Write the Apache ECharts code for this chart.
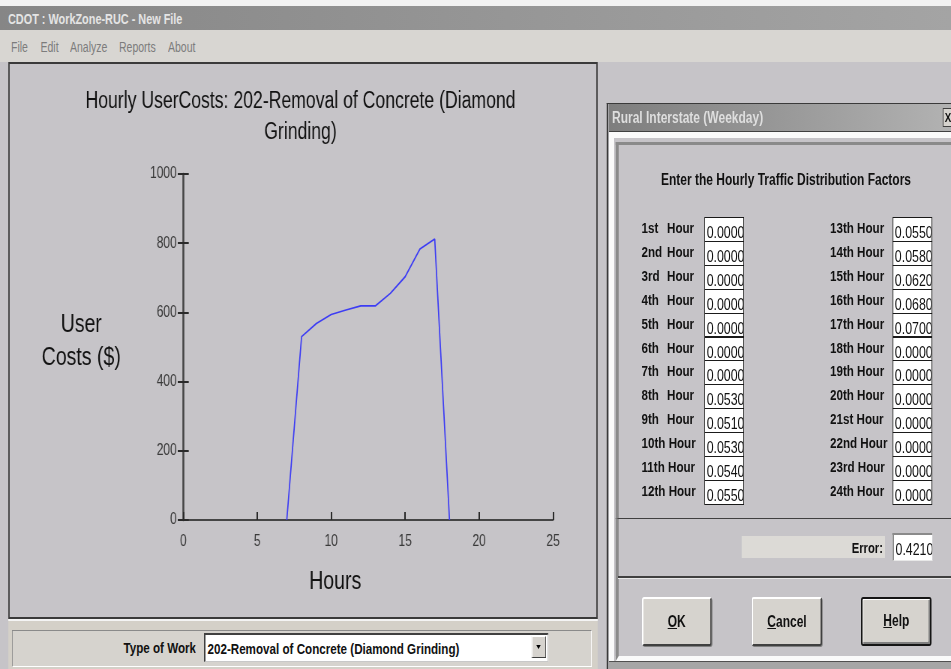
<!DOCTYPE html>
<html><head><meta charset="utf-8">
<script src="https://cdn.jsdelivr.net/npm/echarts@6/dist/echarts.min.js"></script>
<style>
html,body{margin:0;padding:0;width:951px;height:669px;overflow:hidden;background:#c6c4c8;}
#root{position:absolute;left:0;top:0;width:1268px;height:669px;transform:scaleX(0.75);transform-origin:0 0;font-family:"Liberation Sans",Arial,sans-serif;color:#111;}
.b{position:absolute;box-sizing:border-box;white-space:pre;overflow:hidden;}
#chart{position:absolute;}
</style></head><body><div id="root"></div>
<script>
// ---- chart data ----
const hours = [7, 8, 9, 10, 11, 12, 13, 14, 15, 16, 17, 18];
const userCosts = [0, 530, 568, 594, 607, 619, 619, 655, 703, 783, 812, 0];
const xTickLabels = ['0', '5', '10', '15', '20', '25'];
const yTickLabels = ['0', '200', '400', '600', '800', '1000'];
const chartTitle = 'Hourly UserCosts: 202-Removal of Concrete (Diamond\nGrinding)';
// ---- dialog data ----
const leftOrdinals = ['1st','2nd','3rd','4th','5th','6th','7th','8th','9th','10th','11th','12th'];
const rightOrdinals = ['13th','14th','15th','16th','17th','18th','19th','20th','21st','22nd','23rd','24th'];
const leftFactors = ['0.0000','0.0000','0.0000','0.0000','0.0000','0.0000','0.0000','0.0530','0.0510','0.0530','0.0540','0.0550'];
const rightFactors = ['0.0550','0.0580','0.0620','0.0680','0.0700','0.0000','0.0000','0.0000','0.0000','0.0000','0.0000','0.0000'];
const errorValue = '0.4210';

const S = 4/3;
const root = document.getElementById('root');
const FF = '"Liberation Sans",Arial,sans-serif';
function B(x,y,w,h,css,html){
  const d=document.createElement('div');d.className='b';
  d.style.cssText=`left:${x*S}px;top:${y}px;width:${w*S}px;height:${h}px;`+(css||'');
  if(html!=null)d.innerHTML=html;root.appendChild(d);return d;
}
const L = v => (v*S).toFixed(2)+'px';

// window title bar
B(0,0,951,6,'background:#f2f2f2');
B(0,6,951,24,'background:linear-gradient(to right,#868686,#a4a4a4)');
B(8,6,400,25,'font:bold 14.5px '+FF+';color:#e4e4e4;line-height:26px','CDOT : WorkZone-RUC - New File');
// menu
B(0,30,951,32,'background:#d8d6d2');
[['File',11],['Edit',40.5],['Analyze',70],['Reports',119],['About',168]].forEach(m=>{
  B(m[1],32,60,30,'font:14px '+FF+';color:#7c7c7c;line-height:31px',m[0]);
});
// chart panel
B(8,62,590,557,`background:#c6c4c8;border-top:2px solid #3a3a3a;border-bottom:2px solid #3a3a3a;border-left:${L(2)} solid #3a3a3a;border-right:${L(2)} solid #3a3a3a`);
// bottom bar
B(8,619,590,50,'background:#d4d0c8;border-top:2px solid #f4f4f4');
B(12,630,580,37,`background:#d6d3ce;border-top:1px solid #8a8a8a;border-left:${L(1)} solid #8a8a8a;border-bottom:1px solid #fff;border-right:${L(1)} solid #fff`);
B(12,633,184,28,'text-align:right;font:bold 15.5px '+FF+';line-height:30px','Type of Work');
B(204,633,344,29,`background:#fff;border-top:2px solid #404040;border-left:${L(2)} solid #404040;border-bottom:1px solid #c8c8c8;border-right:${L(1)} solid #c8c8c8;padding-left:${L(2)};font:bold 15.5px ${FF};line-height:27px`,'202-Removal of Concrete (Diamond Grinding)');
B(532,636,14,22,`background:#d6d3ce;border-top:1px solid #fff;border-left:${L(1)} solid #fff;border-bottom:1px solid #404040;border-right:${L(1)} solid #404040`);
B(536.5,645,5,4,`width:0;border-left:${L(2.5)} solid transparent;border-right:${L(2.5)} solid transparent;border-top:4px solid #000;height:0`);

// dialog
B(607,103,344,566,`background:#c6c4c8;border-left:${L(1.5)} solid #3a3a3a;border-top:1px solid #3a3a3a`);
B(609,104,342,27,'background:linear-gradient(to right,#7e7e7e,#b2b2b2)');
B(612,104,300,27,'font:bold 16px '+FF+';color:#dedede;line-height:28px','Rural Interstate (Weekday)');
B(943,108,10,19,`background:#d6d3ce;border:1px solid #404040;font:bold 13px ${FF};line-height:17px;padding-left:${L(1)}`,'X');
B(609,131,342,1,'background:#404040');
B(609,132,342,6,'background:#fafafa');
B(609,132,5,537,'background:#fafafa');
// upper panel
B(616,142,335,377,`border-top:3px solid #8a8a8a;border-left:${L(3)} solid #8a8a8a;border-bottom:1px solid #404040`);
B(626,168,320,24,'text-align:center;font:bold 16px '+FF+';line-height:24px','Enter the Hourly Traffic Distribution Factors');
const rowTop = 217, rowH = 23.9;
function ordinalLabel(x, y, ord){
  const single = ord.length === 3;
  if (single){
    B(x,y,30,24,'font:bold 15.5px '+FF+';line-height:24px',ord);
    B(x+25.5,y,40,24,'font:bold 15.5px '+FF+';line-height:24px','Hour');
  } else {
    B(x,y,64,24,'font:bold 15.5px '+FF+';line-height:24px',ord+' Hour');
  }
}
function valueBox(x,y,val){
  B(x,y,40,rowH+1,`background:#fff;border-top:1px solid #1a1a1a;border-bottom:1px solid #1a1a1a;border-left:${L(1)} solid #1a1a1a;border-right:${L(1.2)} solid #1a1a1a;padding-left:${L(1.6)};font:16.5px ${FF};line-height:28px`,val);
}
leftOrdinals.forEach((o,i)=>{
  const y = rowTop + i*rowH;
  ordinalLabel(641.5, y-1, o);
  valueBox(704.3, y, leftFactors[i]);
});
rightOrdinals.forEach((o,i)=>{
  const y = rowTop + i*rowH;
  B(830,y-1,64,24,'font:bold 15.5px '+FF+';line-height:24px',o+' Hour');
  valueBox(892.5, y, rightFactors[i]);
});
// lower panel
B(616,519,335,142,`border-left:${L(3)} solid #8a8a8a;border-bottom:5px solid #fafafa`);
B(609,661,342,8,'background:#a6a6a6;border-top:1px solid #505050');
B(742,536,143,22,'background:#dcdad6');
B(742,536,141,22,'text-align:right;font:bold 15px '+FF+';line-height:23px','Error:');
B(892.5,533,39.5,28,`background:#fff;border-top:2px solid #8a8a8a;border-left:${L(2)} solid #8a8a8a;border-bottom:1px solid #e8e8e8;padding-left:${L(1.5)};font:16.5px ${FF};line-height:28px`,errorValue);
B(618,576,333,2,'background:#404040');
B(618,578,333,1,'background:#e8e8e8');
function button(x,w,html,strong){
  const css = `background:#d6d3ce;border-radius:3px;text-align:center;font:bold 16px ${FF};line-height:${strong?43:45}px;`+
    (strong ? `border:2px solid #151515;box-shadow:inset 1px 1px 0 #fff, inset -2px -2px 0 #808080;`
            : `border-top:2px solid #fff;border-left:${L(2)} solid #fff;border-bottom:2px solid #404040;border-right:${L(2)} solid #404040;box-shadow:1px 1px 0 #808080;`);
  B(x,597,w,49,css,html);
}
button(641.7,70,'<u>O</u>K',false);
button(751.7,70.6,'<u>C</u>ancel',false);
button(861,70.7,'<u>H</u>elp',true);

// ---- ECharts chart ----
const cx = 10, cy = 64, cw = 585, ch = 552;
const chartDiv = document.createElement('div');
chartDiv.id = 'chart';
chartDiv.style.cssText = `left:${cx*S}px;top:${cy}px;width:${cw*S}px;height:${ch}px;`;
root.appendChild(chartDiv);
const X = v => v*S;
const chart = echarts.init(chartDiv, null, {renderer:'canvas'});
const axisX0 = 183.5, axisX25 = 553.3, axisYtop = 174, axisY0 = 520;
const gridLeft = X(axisX0 - cx), gridWidth = X(axisX25 - axisX0);
const axisColor = '#454545';
const labelStyle = {fontFamily:FF, fontSize:16, color:'#3a3a3a'};
chart.setOption({
  animation:false,
  backgroundColor:'transparent',
  title:{
    text: chartTitle,
    left: X(297 - cx), top: 17, textAlign:'center',
    textStyle:{fontFamily:FF, fontSize:23.5, fontWeight:'normal', color:'#111', lineHeight:31}
  },
  grid:{left:gridLeft, width:gridWidth, top:axisYtop-cy, bottom:ch-(axisY0-cy), containLabel:false},
  xAxis:{
    type:'value', min:0, max:25, interval:5,
    axisLine:{show:true, lineStyle:{color:axisColor, width:2}},
    axisTick:{show:true, inside:true, length:8, lineStyle:{color:'#2a2a2a', width:2}},
    axisLabel:{...labelStyle, margin:14, formatter:(v)=>xTickLabels[Math.round(v/5)]},
    splitLine:{show:false}
  },
  yAxis:[{
    type:'value', min:0, max:1000, interval:200, position:'left',
    axisLine:{show:true, lineStyle:{color:axisColor, width:2.6}},
    axisTick:{show:true, inside:false, length:X(5.5), lineStyle:{color:'#2a2a2a', width:2}},
    axisLabel:{...labelStyle, margin:X(6.5), formatter:(v)=>yTickLabels[Math.round(v/200)]},
    splitLine:{show:false}
  },{
    type:'value', min:0, max:1000, interval:200, position:'left', offset:0,
    axisLine:{show:false},
    axisTick:{show:true, inside:true, length:X(5.5), lineStyle:{color:'#2a2a2a', width:2}},
    axisLabel:{show:false},
    splitLine:{show:false}
  }],
  series:[{
    type:'line', data: hours.map((h,i)=>[h, userCosts[i]]),
    symbol:'none', smooth:false,
    lineStyle:{color:'#3c3cf4', width:1.7},
    z:3
  }],
  graphic:[
    {type:'text', x:X(81.5-cx), y:325-cy, style:{text:'User', fontFamily:FF, fontSize:26, fill:'#111', align:'center', verticalAlign:'middle'}},
    {type:'text', x:X(81.5-cx), y:358-cy, style:{text:'Costs ($)', fontFamily:FF, fontSize:26, fill:'#111', align:'center', verticalAlign:'middle'}},
    {type:'text', x:X(335.5-cx), y:582-cy, style:{text:'Hours', fontFamily:FF, fontSize:26, fill:'#111', align:'center', verticalAlign:'middle'}}
  ]
});
</script>
</body></html>
